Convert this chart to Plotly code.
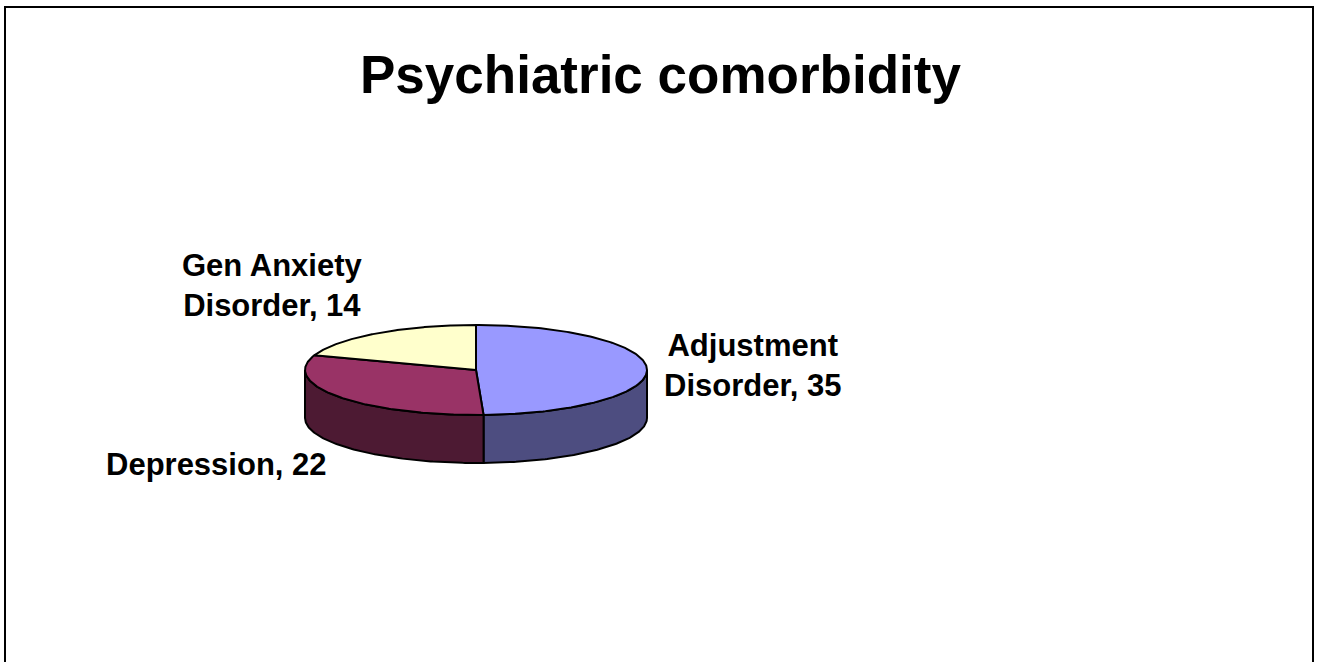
import numpy as np
import plotly.graph_objects as go

# Slice data
categories = ["Adjustment Disorder", "Depression", "Gen Anxiety Disorder"]
values = [35, 22, 14]
label_lines = [["Adjustment", "Disorder, 35"], ["Depression, 22"], ["Gen Anxiety", "Disorder, 14"]]

# Styling
top_colors = ["#9999FF", "#993366", "#FFFFCC"]
side_colors = ["#4D4D80", "#4D1A33", "#80806A"]
label_pos = [(752, 365), (216, 464), (272, 285)]

W, H = 1319, 662
CX, CY, RX, RY, DEPTH = 476, 370, 171, 45, 48
FONT = "Arial, Liberation Sans, Helvetica, sans-serif"


def ellipse(theta_deg, dy=0.0):
    t = np.radians(theta_deg)
    return CX + RX * np.sin(t), CY - RY * np.cos(t) + dy


fig = go.Figure()

total = sum(values)
bounds = np.concatenate([[0], np.cumsum(values) / total * 360.0])

# Side walls (only the front half, 90..270 degrees, is visible)
for i in range(len(values)):
    a, b = max(bounds[i], 90.0), min(bounds[i + 1], 270.0)
    if b <= a:
        continue
    th = np.linspace(a, b, 120)
    xt, yt = ellipse(th)
    xb, yb = ellipse(th[::-1], DEPTH)
    xs = np.concatenate([xt, xb, xt[:1]])
    ys = np.concatenate([yt, yb, yt[:1]])
    fig.add_trace(go.Scatter(x=xs, y=ys, mode="lines", fill="toself",
                             fillcolor=side_colors[i],
                             line=dict(color="black", width=2),
                             hoverinfo="skip", showlegend=False))

# Top faces
for i in range(len(values)):
    th = np.linspace(bounds[i], bounds[i + 1], 200)
    xa, ya = ellipse(th)
    xs = np.concatenate([[CX], xa, [CX]])
    ys = np.concatenate([[CY], ya, [CY]])
    fig.add_trace(go.Scatter(x=xs, y=ys, mode="lines", fill="toself",
                             fillcolor=top_colors[i],
                             line=dict(color="black", width=2),
                             hoverinfo="skip", showlegend=False,
                             name=categories[i]))

# Data labels
for lines, (lx, ly) in zip(label_lines, label_pos):
    fig.add_annotation(x=lx, y=ly, xref="x", yref="y", text="<br>".join(lines),
                       showarrow=False, align="center",
                       xanchor="center", yanchor="middle",
                       font=dict(family=FONT, size=31, color="black", weight="bold"))

# Title
fig.add_annotation(x=660, y=74, xref="x", yref="y", text="Psychiatric comorbidity",
                   showarrow=False, xanchor="center", yanchor="middle",
                   font=dict(family=FONT, size=53, color="black", weight="bold"))

# Chart frame
fig.add_shape(type="rect", x0=5, x1=1313, y0=7, y1=H + 20, xref="x", yref="y",
              line=dict(color="black", width=2), fillcolor="rgba(0,0,0,0)", layer="above")

fig.update_layout(
    width=W, height=H,
    margin=dict(l=0, r=0, t=0, b=0),
    paper_bgcolor="white", plot_bgcolor="white",
    xaxis=dict(range=[0, W], visible=False, fixedrange=True),
    yaxis=dict(range=[H, 0], visible=False, fixedrange=True),
    showlegend=False,
)

fig.write_html("out.html")
